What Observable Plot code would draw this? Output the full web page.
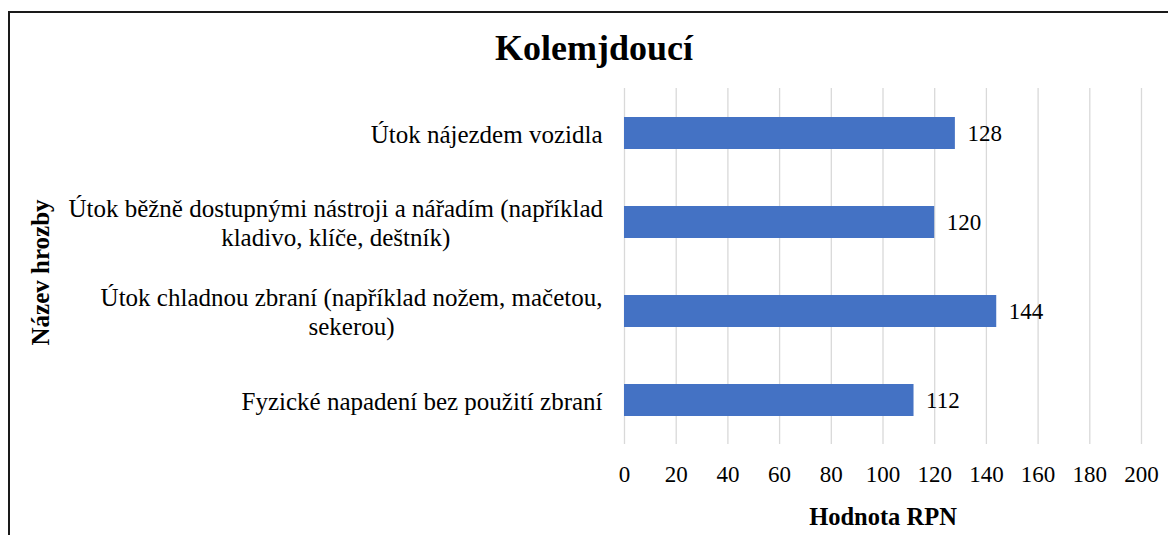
<!DOCTYPE html>
<html><head><meta charset="utf-8">
<script src="https://cdn.jsdelivr.net/npm/d3@7"></script>
<script src="https://cdn.jsdelivr.net/npm/@observablehq/plot@0.6"></script>
<style>
body{margin:0;background:#fff;overflow:hidden}
#wrap{position:relative;width:1168px;height:535px;overflow:hidden;font-family:"Liberation Serif","Times New Roman",serif;color:#000}
#frame{position:absolute;left:8px;top:11px;width:1300px;height:700px;border-left:2px solid #1a1a1a;border-top:2px solid #1a1a1a;box-sizing:border-box}
#title{position:absolute;left:0;top:22px;width:1188px;text-align:center;font-weight:bold;font-size:36px;line-height:52px}
#chart{position:absolute;left:0;top:0}
#chart text{font-family:"Liberation Serif","Times New Roman",serif}
</style></head>
<body>
<div id="wrap"><div id="frame"></div><div id="title"></div><div id="chart"></div></div>
<script>
const title = "Kolemjdoucí";
const xLabel = "Hodnota RPN";
const yLabel = "Název hrozby";
const categories = [
  "Útok nájezdem vozidla",
  "Útok běžně dostupnými nástroji a nářadím (například\nkladivo, klíče, deštník)",
  "Útok chladnou zbraní (například nožem, mačetou,\nsekerou)",
  "Fyzické napadení bez použití zbraní"
];
const values = [128, 120, 144, 112];
const xTicks = [0, 20, 40, 60, 80, 100, 120, 140, 160, 180, 200];

const data = categories.map((name, i) => ({name, value: values[i]}));
document.getElementById("title").textContent = title;

const font = "Liberation Serif";
const chart = Plot.plot({
  width: 1168, height: 535,
  marginLeft: 624, marginRight: 27, marginTop: 88, marginBottom: 91,
  style: {fontFamily: font, fontSize: "23px", color: "#000", background: "transparent", overflow: "visible"},
  x: {domain: [0, 200], ticks: xTicks},
  y: {domain: categories, paddingInner: 0.646, paddingOuter: 0.323, axis: null},
  marks: [
    Plot.gridX(xTicks, {stroke: "#d9d9d9", strokeOpacity: 1, strokeWidth: 1.3}),
    Plot.axisX(xTicks, {tickSize: 0, tickPadding: 21, fontSize: 23, fontFamily: font, label: null, fill: "#000"}),
    Plot.barX(data, {x: "value", y: "name", fill: "#4472C4"}),
    Plot.text(data, {x: "value", y: "name", text: d => String(d.value), textAnchor: "start", dx: 12, fontSize: 23, fontFamily: font, fill: "#000"}),
    Plot.text(data, {y: "name", text: "name", frameAnchor: "left", textAnchor: "end", lineAnchor: "middle", dx: -22, fontSize: 25, fontFamily: font, lineHeight: 1.16, fill: "#000"}),
    Plot.text([xLabel], {text: d => d, frameAnchor: "bottom", textAnchor: "middle", lineAnchor: "middle", dy: 73, fontWeight: "bold", fontSize: 24.5, fontFamily: font, fill: "#000"}),
    Plot.text([yLabel], {text: d => d, frameAnchor: "left", textAnchor: "middle", lineAnchor: "middle", dx: -584, dy: 6, rotate: -90, fontWeight: "bold", fontSize: 25, fontFamily: font, fill: "#000"})
  ]
});
document.getElementById("chart").appendChild(chart);

// center wrapped category label lines like the original (block right-aligned, lines centered)
chart.querySelectorAll("text").forEach(t => {
  const ts = t.querySelectorAll("tspan");
  if (ts.length < 2) return;
  const W = Math.max(...[...ts].map(s => s.getComputedTextLength()));
  const bb = t.getBBox();
  const right = bb.x + bb.width;
  t.setAttribute("text-anchor", "middle");
  ts.forEach(s => s.setAttribute("x", right - W / 2));
});
</script>
</body></html>
